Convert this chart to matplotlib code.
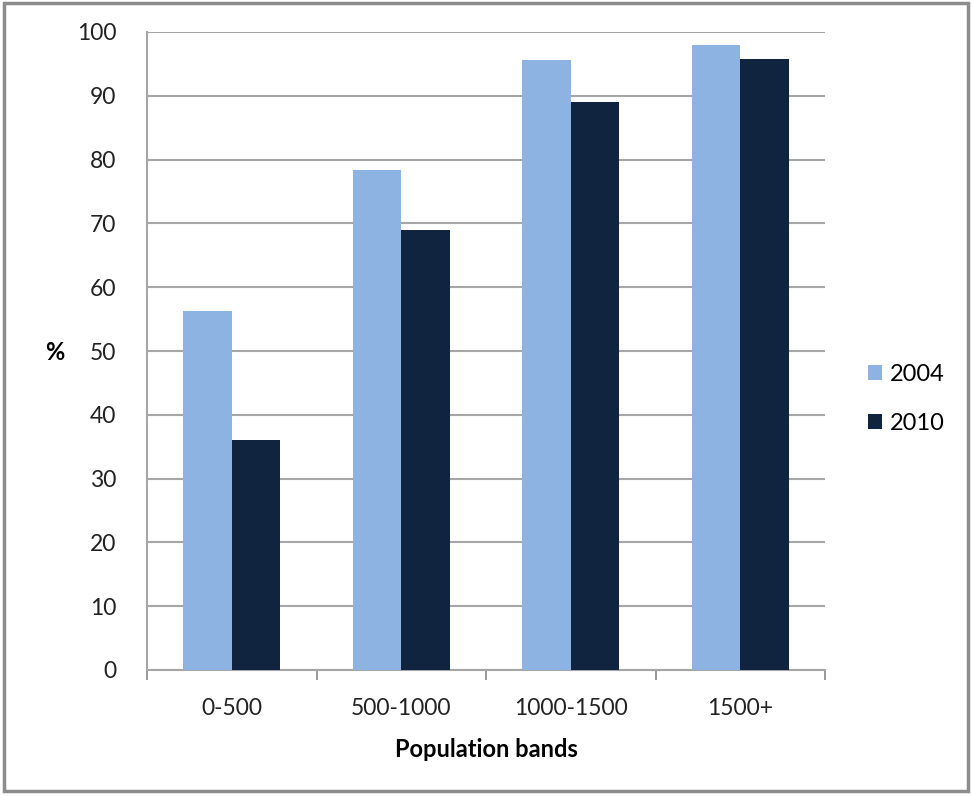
import numpy as np
import matplotlib.pyplot as plt
from matplotlib.patches import Rectangle

# Дані
bands = ['0-500', '500-1000', '1000-1500', '1500+']
years = ['2004', '2010']
vals_2004 = [56.2, 78.3, 95.6, 98.0]
vals_2010 = [36.0, 69.0, 89.1, 95.7]

colors = ['#8DB3E2', '#10243F']

plt.rcParams['font.family'] = ['Lato', 'DejaVu Sans']

fig = plt.figure(figsize=(9.72, 7.96), dpi=100)
ax = fig.add_axes([147 / 972, 1 - 670 / 796, (825 - 147) / 972, (670 - 32) / 796])

x = np.arange(len(bands))
w = 0.286
ax.bar(x - w / 2, vals_2004, w, color=colors[0], label=years[0], zorder=3)
ax.bar(x + w / 2, vals_2010, w, color=colors[1], label=years[1], zorder=3)

ax.set_xlim(-0.5, len(bands) - 0.5)
ax.set_ylim(0, 100)
ax.set_yticks(range(0, 101, 10))
ax.set_xticks(x)
ax.set_xticklabels(bands)
ax.set_xticks(np.arange(-0.5, len(bands)), minor=True)
ax.tick_params(axis='x', which='major', length=0, pad=20, labelsize=16.5, colors='#222222')
ax.tick_params(axis='x', which='minor', length=7, color='#888888', width=1.2)
ax.tick_params(axis='y', length=0, pad=22, labelsize=16.5, colors='#222222')

ax.grid(axis='y', color='#A6A6A6', linewidth=1.5, zorder=0)
for s in ['top', 'right']:
    ax.spines[s].set_visible(False)
ax.spines['left'].set_color('#A6A6A6')
ax.spines['left'].set_linewidth(1.5)
ax.spines['bottom'].set_color('#A6A6A6')
ax.spines['bottom'].set_linewidth(1.5)

ax.set_xlabel('Population bands', fontsize=17, fontweight='bold', labelpad=14)
fig.text(55 / 972, 1 - 353 / 796, '%', fontsize=17, fontweight='bold', ha='center', va='center')

ax.legend(loc='center left', bbox_to_anchor=(847 / 972, 1 - 399 / 796), bbox_transform=fig.transFigure,
          frameon=False, fontsize=17, handlelength=0.6, handleheight=0.6, handletextpad=0.3,
          labelspacing=1.2)

# Рамка навколо рисунка
fig.patches.append(Rectangle((0.004, 0.006), 0.992, 0.99, transform=fig.transFigure,
                             fill=False, edgecolor='#8C8C8C', linewidth=2.5))

fig.savefig('out.png', dpi=100)
